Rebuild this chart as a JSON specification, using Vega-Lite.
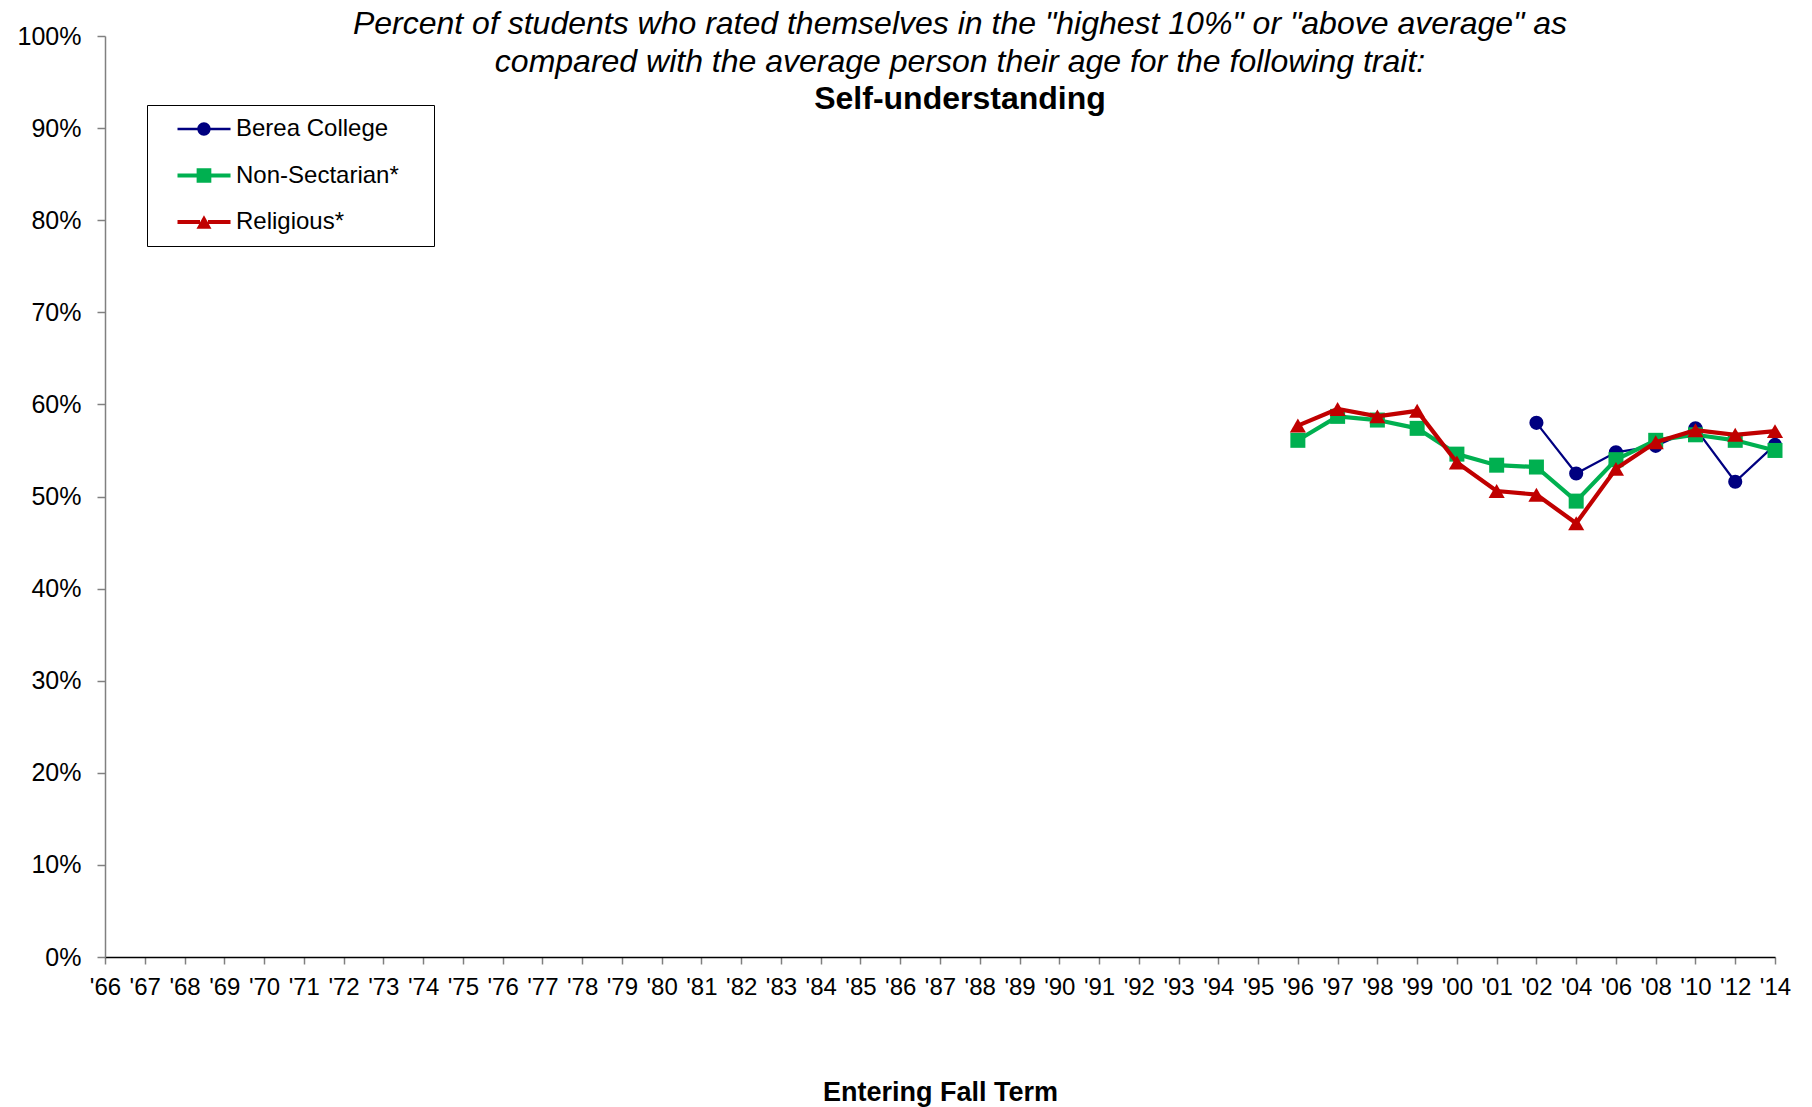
{
  "$schema": "https://vega.github.io/schema/vega-lite/v6.json",
  "width": 1670,
  "height": 921,
  "autosize": {"type": "none"},
  "padding": {"left": 105, "top": 36, "right": 37, "bottom": 150},
  "background": "white",
  "title": {
    "text": ["Percent of students who rated themselves in the \"highest 10%\" or \"above average\" as", "compared with the average person their age for the following trait:"],
    "subtitle": "Self-understanding",
    "anchor": "middle",
    "frame": "group",
    "font": "Liberation Sans",
    "fontSize": 32,
    "fontStyle": "italic",
    "fontWeight": "normal",
    "color": "black",
    "lineHeight": 38,
    "subtitleFont": "Liberation Sans",
    "subtitleFontSize": 32,
    "subtitleFontWeight": "bold",
    "subtitleFontStyle": "normal",
    "subtitleColor": "black",
    "subtitleLineHeight": 37,
    "subtitlePadding": 5,
    "offset": 0,
    "dx": 20,
    "dy": 92
  },
  "data": {
    "values": [
      {"year": "'02", "series": "Berea College", "value": 58.0},
      {"year": "'04", "series": "Berea College", "value": 52.5},
      {"year": "'06", "series": "Berea College", "value": 54.8},
      {"year": "'08", "series": "Berea College", "value": 55.5},
      {"year": "'10", "series": "Berea College", "value": 57.4},
      {"year": "'12", "series": "Berea College", "value": 51.6},
      {"year": "'14", "series": "Berea College", "value": 55.6},
      {"year": "'96", "series": "Non-Sectarian*", "value": 56.1},
      {"year": "'97", "series": "Non-Sectarian*", "value": 58.7},
      {"year": "'98", "series": "Non-Sectarian*", "value": 58.3},
      {"year": "'99", "series": "Non-Sectarian*", "value": 57.4},
      {"year": "'00", "series": "Non-Sectarian*", "value": 54.6},
      {"year": "'01", "series": "Non-Sectarian*", "value": 53.4},
      {"year": "'02", "series": "Non-Sectarian*", "value": 53.2},
      {"year": "'04", "series": "Non-Sectarian*", "value": 49.5},
      {"year": "'06", "series": "Non-Sectarian*", "value": 54.0},
      {"year": "'08", "series": "Non-Sectarian*", "value": 56.1},
      {"year": "'10", "series": "Non-Sectarian*", "value": 56.7},
      {"year": "'12", "series": "Non-Sectarian*", "value": 56.1},
      {"year": "'14", "series": "Non-Sectarian*", "value": 55.0},
      {"year": "'96", "series": "Religious*", "value": 57.7},
      {"year": "'97", "series": "Religious*", "value": 59.5},
      {"year": "'98", "series": "Religious*", "value": 58.7},
      {"year": "'99", "series": "Religious*", "value": 59.3},
      {"year": "'00", "series": "Religious*", "value": 53.7},
      {"year": "'01", "series": "Religious*", "value": 50.6},
      {"year": "'02", "series": "Religious*", "value": 50.2},
      {"year": "'04", "series": "Religious*", "value": 47.1},
      {"year": "'06", "series": "Religious*", "value": 53.0},
      {"year": "'08", "series": "Religious*", "value": 55.9},
      {"year": "'10", "series": "Religious*", "value": 57.2},
      {"year": "'12", "series": "Religious*", "value": 56.7},
      {"year": "'14", "series": "Religious*", "value": 57.1}
    ]
  },
  "encoding": {
    "x": {
      "field": "year",
      "type": "ordinal",
      "sort": null,
      "scale": {
        "type": "point",
        "padding": 0,
        "domain": ["'66","'67","'68","'69","'70","'71","'72","'73","'74","'75","'76","'77","'78","'79","'80","'81","'82","'83","'84","'85","'86","'87","'88","'89","'90","'91","'92","'93","'94","'95","'96","'97","'98","'99","'00","'01","'02","'04","'06","'08","'10","'12","'14"]
      },
      "title": "Entering Fall Term",
      "axis": {
        "grid": false,
        "domainColor": "black",
        "domainWidth": 1.5,
        "tickColor": "#808080",
        "tickSize": 7,
        "tickWidth": 1.5,
        "labelAngle": 0,
        "labelFont": "Liberation Sans",
        "labelFontSize": 24,
        "labelColor": "black",
        "labelPadding": 11,
        "labelOverlap": false,
        "labelFlush": false,
        "titleFont": "Liberation Sans",
        "titleFontSize": 27,
        "titleFontWeight": "bold",
        "titleColor": "black",
        "titlePadding": 80
      }
    },
    "y": {
      "field": "value",
      "type": "quantitative",
      "scale": {"domain": [0, 100], "nice": false},
      "title": null,
      "axis": {
        "grid": false,
        "values": [0, 10, 20, 30, 40, 50, 60, 70, 80, 90, 100],
        "labelExpr": "datum.value + '%'",
        "domainColor": "#808080",
        "domainWidth": 1.5,
        "tickColor": "#808080",
        "tickSize": 8,
        "tickWidth": 1.5,
        "labelFont": "Liberation Sans",
        "labelFontSize": 25,
        "labelColor": "black",
        "labelPadding": 16
      }
    }
  },
  "layer": [
    {
      "transform": [{"filter": "datum.series === 'Berea College'"}],
      "mark": {"type": "line", "color": "#000080", "strokeWidth": 2.2, "point": {"shape": "circle", "filled": true, "size": 200, "color": "#000080", "opacity": 1}}
    },
    {
      "transform": [{"filter": "datum.series === 'Non-Sectarian*'"}],
      "mark": {"type": "line", "color": "#00B050", "strokeWidth": 4.2, "point": {"shape": "square", "filled": true, "size": 225, "color": "#00B050", "opacity": 1}}
    },
    {
      "transform": [{"filter": "datum.series === 'Religious*'"}],
      "mark": {"type": "line", "color": "#C00000", "strokeWidth": 4.2, "point": {"shape": "triangle-up", "filled": true, "size": 260, "color": "#C00000", "opacity": 1}}
    },
    {
      "mark": {"type": "point", "filled": true, "opacity": 0},
      "encoding": {
        "color": {
          "field": "series",
          "type": "nominal",
          "scale": {"domain": ["Berea College", "Non-Sectarian*", "Religious*"], "range": ["#000080", "#00B050", "#C00000"]},
          "legend": {
            "title": null,
            "orient": "none",
            "legendX": 42,
            "legendY": 69,
            "padding": 12,
            "strokeColor": "black",
            "fillColor": "white",
            "symbolSize": 225,
            "symbolStrokeWidth": 0,
            "symbolOpacity": 1,
            "symbolOffset": 14,
            "labelOffset": 39,
            "labelFont": "Liberation Sans",
            "labelFontSize": 24,
            "labelColor": "black",
            "labelLimit": 400,
            "rowPadding": 22.5
          }
        },
        "shape": {
          "field": "series",
          "type": "nominal",
          "scale": {
            "domain": ["Berea College", "Non-Sectarian*", "Religious*"],
            "range": [
              "M-1,-0.17H1.7V0.17H-1Z M3.37,-0.17H6.07V0.17H3.37Z M1.64,0A0.89,0.89 0 1,1 3.42,0A0.89,0.89 0 1,1 1.64,0Z M31.5,0",
              "M-1,-0.27H1.6V0.27H-1Z M3.46,-0.27H6.07V0.27H3.46Z M1.55,-0.98H3.51V0.98H1.55Z M31.5,0",
              "M-1,-0.27H2.0V0.27H-1Z M3.06,-0.27H6.07V0.27H3.06Z M2.53,-0.89L3.53,0.89H1.53Z M31.5,0"
            ]
          },
          "legend": {
            "title": null,
            "orient": "none",
            "legendX": 42,
            "legendY": 69,
            "padding": 12,
            "strokeColor": "black",
            "fillColor": "white",
            "symbolSize": 225,
            "symbolStrokeWidth": 0,
            "symbolOpacity": 1,
            "symbolOffset": 14,
            "labelOffset": 39,
            "labelFont": "Liberation Sans",
            "labelFontSize": 24,
            "labelColor": "black",
            "labelLimit": 400,
            "rowPadding": 22.5
          }
        }
      }
    }
  ],
  "config": {
    "view": {"stroke": null},
    "font": "Liberation Sans"
  }
}
